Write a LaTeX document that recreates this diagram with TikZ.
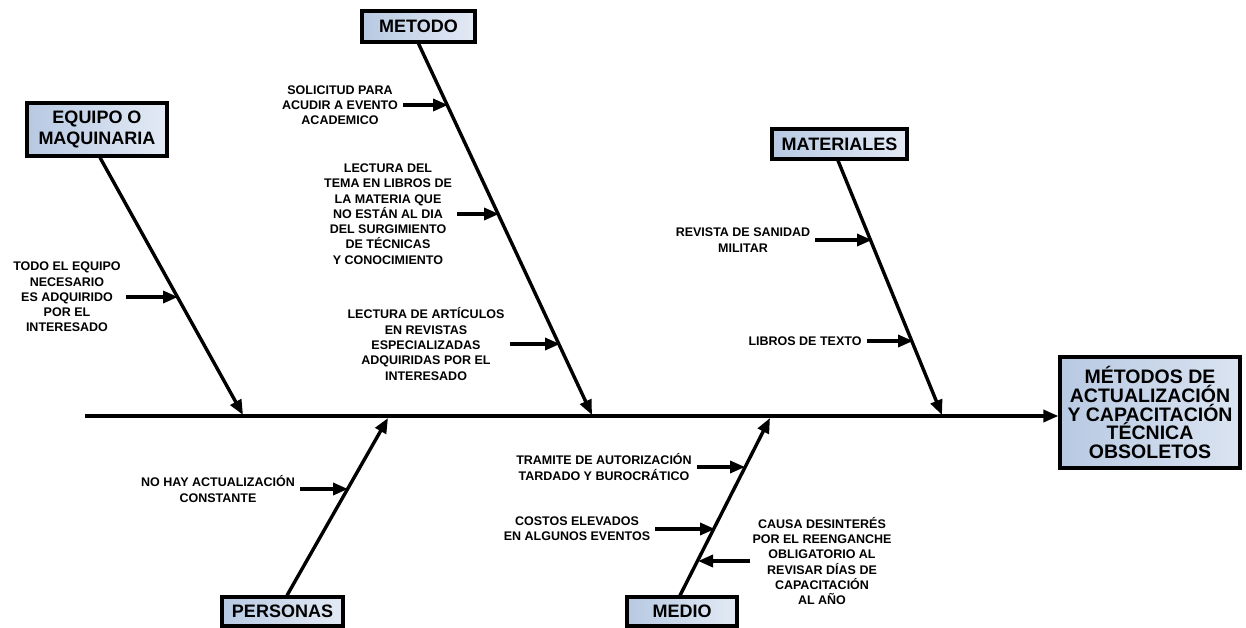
\documentclass[tikz,border=0pt]{standalone}
\usepackage{fontspec}
\setmainfont{Liberation Sans}
\usetikzlibrary{arrows.meta}
\definecolor{boxL}{HTML}{B7C9E2}
\definecolor{boxR}{HTML}{E3EAF5}
\begin{document}
\begin{tikzpicture}[x=1pt,y=-1pt,
  catbox/.style={draw=black,line width=3.2pt,left color=boxL,right color=boxR,
    font=\bfseries\fontsize{18}{20.5}\selectfont,align=center,inner sep=0pt},
  effbox/.style={draw=black,line width=3.2pt,left color=boxL,right color=boxR!80!boxL,
    font=\bfseries\fontsize{19.5}{18.8}\selectfont,align=center,inner sep=0pt,
    minimum width=180pt,minimum height=111pt},
  txt/.style={font=\bfseries\fontsize{12.5}{15.3}\selectfont,align=center,inner sep=0pt},
  bone/.style={line width=3.4pt,-{Triangle[length=15pt,width=12pt]}},
  sub/.style={line width=3.4pt,-{Triangle[length=15pt,width=12pt]}}]
\useasboundingbox (0,0) rectangle (1246,628);

% effect box
\node[effbox] (main) at (1150,412.5) {MÉTODOS DE\\ACTUALIZACIÓN\\Y CAPACITACIÓN\\TÉCNICA\\OBSOLETOS};

% category boxes
\node[catbox,minimum width=140pt,minimum height=53pt] (eq) at (97,129.5) {EQUIPO O\\MAQUINARIA};
\node[catbox,minimum width=113pt,minimum height=31pt] (met) at (418.5,26.5) {METODO};
\node[catbox,minimum width=135pt,minimum height=30pt] (mat) at (839.5,144) {MATERIALES};
\node[catbox,minimum width=121pt,minimum height=29pt] (per) at (282.5,611.5) {PERSONAS};
\node[catbox,minimum width=110pt,minimum height=29pt] (med) at (682,611.5) {MEDIO};

% spine
\coordinate (spineL) at (85,416);
\draw[bone] (spineL) -- (main.west |- spineL);

% bone ends on spine
\coordinate (eqE) at (243,415);
\coordinate (metE) at (592,415);
\coordinate (matE) at (942,415);
\coordinate (perE) at (388,418);
\coordinate (medE) at (770,418);

\draw[bone] ([xshift=3pt]eq.south) -- (eqE);
\draw[bone] (met.south) -- (metE);
\draw[bone] ([xshift=-1.5pt]mat.south) -- (matE);
\draw[bone] ([xshift=4.5pt]per.north) -- (perE);
\draw[bone] ([xshift=-2pt]med.north) -- (medE);

% cause texts
\node[txt] (sol) at (340,105) {SOLICITUD PARA\\ACUDIR A EVENTO\\ACADEMICO};
\node[txt] (lt) at (388,214) {LECTURA DEL\\TEMA EN LIBROS DE\\LA MATERIA QUE\\NO ESTÁN AL DIA\\DEL SURGIMIENTO\\DE TÉCNICAS\\Y CONOCIMIENTO};
\node[txt] (la) at (426,344) {LECTURA DE ARTÍCULOS\\EN REVISTAS\\ESPECIALIZADAS\\ADQUIRIDAS POR EL\\INTERESADO};
\node[txt] (todo) at (67,297) {TODO EL EQUIPO\\NECESARIO\\ES ADQUIRIDO\\POR EL\\INTERESADO};
\node[txt] (rev) at (743,240) {REVISTA DE SANIDAD\\MILITAR};
\node[txt] (lib) at (805,341) {LIBROS DE TEXTO};
\node[txt] (nohay) at (218,489) {NO HAY ACTUALIZACIÓN\\CONSTANTE};
\node[txt] (tram) at (604,467) {TRAMITE DE AUTORIZACIÓN\\TARDADO Y BUROCRÁTICO};
\node[txt] (cost) at (577,529) {COSTOS ELEVADOS\\EN ALGUNOS EVENTOS};
\node[txt] (causa) at (822,561) {CAUSA DESINTERÉS\\POR EL REENGANCHE\\OBLIGATORIO AL\\REVISAR DÍAS DE\\CAPACITACIÓN\\AL AÑO};

% arrow tips on bones
\coordinate (tsol) at (448,105);
\coordinate (tlt) at (499,214);
\coordinate (tla) at (560,344);
\coordinate (ttodo) at (178,297);
\coordinate (trev) at (872,240);
\coordinate (tlib) at (913,341);
\coordinate (tnohay) at (348,489);
\coordinate (ttram) at (745,467);
\coordinate (tcost) at (715,529);
\coordinate (tcausa) at (698,561);

\draw[sub] ([xshift=5pt]sol.east) -- (tsol);
\draw[sub] ([xshift=5pt]lt.east) -- (tlt);
\draw[sub] ([xshift=5pt]la.east) -- (tla);
\draw[sub] ([xshift=5pt]todo.east) -- (ttodo);
\draw[sub] ([xshift=5pt]rev.east) -- (trev);
\draw[sub] ([xshift=5pt]lib.east) -- (tlib);
\draw[sub] ([xshift=5pt]nohay.east) -- (tnohay);
\draw[sub] ([xshift=5pt]tram.east) -- (ttram);
\draw[sub] ([xshift=5pt]cost.east) -- (tcost);
\draw[sub] ([xshift=-2pt]causa.west) -- (tcausa);
\end{tikzpicture}
\end{document}
